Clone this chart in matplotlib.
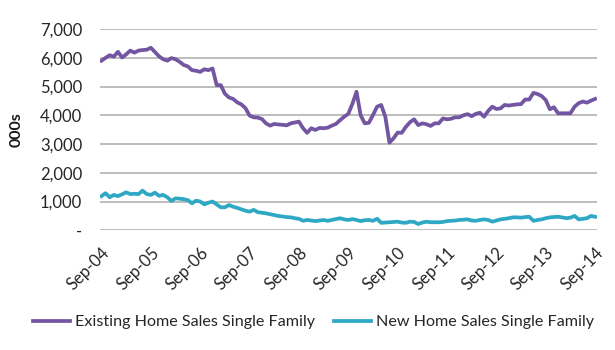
import matplotlib
matplotlib.use("Agg")
import matplotlib.pyplot as plt
from matplotlib.ticker import FuncFormatter

plt.rcParams['font.family'] = ['Lato', 'DejaVu Sans']

# monthly, Sep-04 .. Sep-14 (thousands)
existing = [5900, 6000, 6090, 6040, 6210, 6010, 6120, 6250, 6180, 6250,
            6270, 6280, 6350, 6200, 6050, 5950, 5900, 5990, 5950, 5860,
            5750, 5700, 5570, 5550, 5510, 5600, 5570, 5630, 5050, 5050,
            4750, 4620, 4570, 4450, 4380, 4250, 3990, 3930, 3920, 3870,
            3720, 3640, 3700, 3680, 3670, 3650, 3720, 3750, 3780, 3550,
            3390, 3550, 3490, 3560, 3550, 3570, 3640, 3700, 3830, 3950,
            4050, 4400, 4820, 4000, 3720, 3740, 4010, 4300, 4360, 3950,
            3050, 3200, 3400, 3390, 3600, 3760, 3860, 3660, 3720, 3690,
            3630, 3720, 3720, 3890, 3860, 3880, 3930, 3930, 4000, 4040,
            3970, 4050, 4090, 3950, 4150, 4300, 4220, 4240, 4360, 4340,
            4360, 4380, 4390, 4550, 4550, 4780, 4740, 4670, 4530, 4210,
            4280, 4070, 4070, 4070, 4070, 4300, 4420, 4480, 4440, 4510,
            4570]
new = [1190, 1290, 1150, 1230, 1190, 1250, 1320, 1260, 1270, 1260,
       1380, 1260, 1230, 1310, 1200, 1230, 1150, 1020, 1110, 1100,
       1080, 1050, 940, 1030, 1000, 900, 960, 1000, 900, 800,
       800, 880, 820, 780, 730, 680, 650, 710, 630, 610,
       590, 560, 530, 500, 480, 460, 450, 420, 400, 330,
       360, 340, 320, 340, 360, 330, 360, 390, 420, 380,
       360, 390, 360, 320, 350, 360, 330, 400, 260, 270,
       280, 290, 300, 270, 260, 300, 290, 220, 270, 300,
       280, 280, 280, 290, 320, 330, 340, 360, 370, 380,
       340, 330, 360, 380, 360, 300, 340, 380, 400, 420,
       450, 450, 440, 460, 470, 330, 360, 380, 420, 450,
       460, 470, 450, 420, 440, 500, 380, 400, 420, 500,
       470]
tick_labels = ['Sep-04', 'Sep-05', 'Sep-06', 'Sep-07', 'Sep-08', 'Sep-09',
               'Sep-10', 'Sep-11', 'Sep-12', 'Sep-13', 'Sep-14']

x = list(range(len(existing)))

fig = plt.figure(figsize=(6.15, 3.5), dpi=100)
ax = fig.add_axes([0.163, 0.342, 0.808, 0.575])

ax.plot(x, existing, color='#7356a1', lw=2.7, label='Existing Home Sales Single Family')
ax.plot(x, new, color='#2ea8c4', lw=2.7, label='New Home Sales Single Family')

ax.set_ylim(0, 7000)
ax.set_xlim(-0.3, 120.5)
ax.set_yticks(range(0, 7001, 1000))
ax.yaxis.set_major_formatter(FuncFormatter(lambda v, p: '-' if v == 0 else f'{int(v):,}'))
ax.set_xticks(range(0, 121, 12))
ax.set_xticklabels(tick_labels, rotation=45, ha='right', rotation_mode='anchor')

ax.grid(axis='y', color='#b8b8b8', lw=1.3)
ax.set_axisbelow(True)
for s in ax.spines.values():
    s.set_visible(False)
ax.tick_params(length=0, colors='#262626')
ax.tick_params(axis='y', pad=13, labelsize=12)
ax.tick_params(axis='x', pad=10, labelsize=12)
ax.set_ylabel('000s', fontsize=11.5, fontweight='bold', color='#1a1a1a')
ax.yaxis.set_label_coords(-0.155, 0.5)

fig.legend(loc='center', bbox_to_anchor=(0.51, 0.08), ncol=2, frameon=False,
           fontsize=11.6, handlelength=2.3, handletextpad=0.3, columnspacing=1.2,
           labelcolor='#262626')

fig.savefig('out.png', dpi=100)
